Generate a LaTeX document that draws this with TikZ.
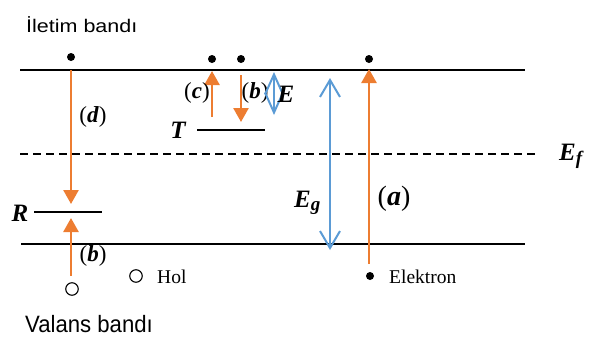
\documentclass[tikz,border=0pt]{standalone}
\usepackage{fontspec}
\setmainfont{Liberation Serif}
\newfontfamily\labsans{Liberation Sans}
\usetikzlibrary{arrows.meta}
\definecolor{orng}{HTML}{ED7D31}
\definecolor{blu}{HTML}{5B9BD5}
\tikzset{
  band/.style={line width=2pt, black},
  level/.style={line width=1.8pt, black},
  fermi/.style={line width=1.3pt, black, dash pattern=on 8pt off 5pt},
  oarrow/.style={line width=2.6pt, orng, -{Triangle[width=15pt,length=14pt]}},
  barrow/.style={line width=2pt, blu, {Straight Barb[width=20pt,length=17pt]}-{Straight Barb[width=20pt,length=17pt]}},
  sbarrow/.style={line width=2pt, blu, {Straight Barb[width=18pt,length=20pt]}-{Straight Barb[width=18pt,length=20pt]}},
  electron/.style={circle, fill=black, inner sep=0pt, minimum size=8pt},
  hole/.style={circle, draw=black, line width=1.1pt, fill=white, inner sep=0pt, minimum size=12.5pt},
  lab/.style={inner sep=0pt, font=\fontsize{23}{26}\selectfont},
  biglab/.style={inner sep=0pt, font=\fontsize{28}{30}\selectfont},
  sym/.style={inner sep=0pt, font=\fontsize{25}{28}\selectfont\bfseries\itshape},
  legend/.style={inner sep=0pt, font=\fontsize{19.5}{22}\selectfont},
  bandlab/.style={inner sep=0pt, font=\labsans\fontsize{21.5}{24}\selectfont},
}
\newcommand{\plab}[1]{(\textbf{\textit{#1}})}
\begin{document}
\begin{tikzpicture}[x=1pt,y=-1pt]
\useasboundingbox (0,0) rectangle (589,338);
% bands
\coordinate (cb1) at (20,70); \coordinate (cb2) at (525,70);
\coordinate (vb1) at (21,244); \coordinate (vb2) at (525,244);
\coordinate (ef1) at (20,154); \coordinate (ef2) at (537,154);
\draw[band] (cb1) -- (cb2);
\draw[band] (vb1) -- (vb2);
\draw[fermi] (ef1) -- (ef2);
% band labels
\node[bandlab, anchor=base west] (cbl) at (26,32) {\scalebox{1}[0.85]{İletim bandı}};
\node[bandlab, anchor=base west] (vbl) at (25,332) {\scalebox{1.03}[1.1]{Valans bandı}};
\node[sym, anchor=base west] (efl) at (559,160) {E\textsubscript{\fontsize{19}{20}\selectfont\bfseries\itshape f}};
% trap T
\coordinate (t1) at (197,130); \coordinate (t2) at (265,130);
\draw[level] (t1) -- (t2);
\node[sym] (tl) at (178,130) {T};
% recombination R
\coordinate (r1) at (34,212); \coordinate (r2) at (102,212);
\draw[level] (r1) -- (r2);
\node[sym] (rl) at (20,213) {R};
% electrons at top
\node[electron] (e1) at (71,57) {};
\node[electron] (e2) at (212,59) {};
\node[electron] (e3) at (241,59) {};
\node[electron] (e4) at (369,59) {};
% (d) arrow
\coordinate (d1) at (71,70); \coordinate (d2) at (71,204);
\draw[oarrow] (d1) -- (d2);
\node[lab] (dl) at (93,117) {\plab{d}};
% lower (b) arrow
\node[hole] (h1) at (72,289) {};
\coordinate (b1) at (71,276); \coordinate (b2) at (71,218);
\draw[oarrow] (b1) -- (b2);
\node[lab] (bl1) at (93,256) {\plab{b}};
% (c) arrow
\coordinate (c1) at (212,117); \coordinate (c2) at (212,71);
\draw[oarrow] (c1) -- (c2);
\node[lab] (cl) at (197,93) {\plab{c}};
% upper (b) arrow
\coordinate (bb1) at (241,75); \coordinate (bb2) at (241,122);
\draw[oarrow] (bb1) -- (bb2);
\node[lab] (bl2) at (255,93) {\plab{b}};
% small E arrow
\coordinate (se1) at (274,72); \coordinate (se2) at (274,115);
\draw[sbarrow] (se1) -- (se2);
\node[sym] (elab) at (286,94) {E};
% Eg arrow
\coordinate (g1) at (330,78); \coordinate (g2) at (330,250);
\draw[barrow] (g1) -- (g2);
\node[sym, anchor=base west] (egl) at (294,207) {E\textsubscript{\fontsize{19}{20}\selectfont\bfseries\itshape g}};
% (a) arrow
\node[electron] (e5) at (370,276) {};
\coordinate (a1) at (369,264); \coordinate (a2) at (369,69);
\draw[oarrow] (a1) -- (a2);
\node[biglab] (al) at (394,199) {\plab{a}};
% legend
\node[hole] (h2) at (136,276) {};
\node[legend, anchor=base west] (holl) at (157,283) {Hol};
\node[legend, anchor=base west] (ell) at (389,283) {Elektron};
\end{tikzpicture}
\end{document}
